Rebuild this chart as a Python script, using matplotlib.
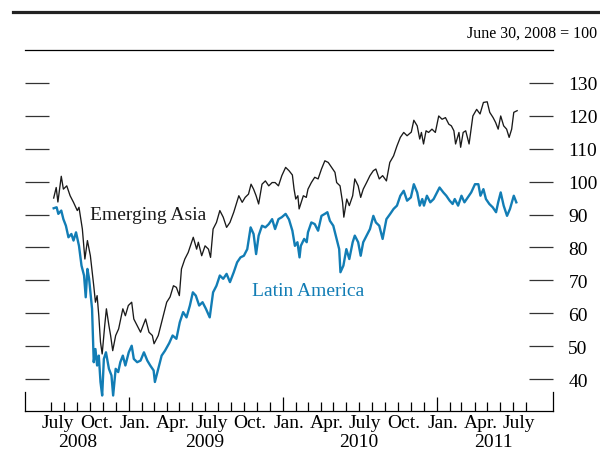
import matplotlib
matplotlib.use("Agg")
import matplotlib.pyplot as plt
from matplotlib.lines import Line2D
from matplotlib.transforms import blended_transform_factory
import pandas as pd

plt.rcParams['font.family'] = ['Liberation Serif', 'DejaVu Serif']

asia_dates = [
    "2008-07-07", "2008-07-13", "2008-07-17", "2008-07-25", "2008-07-30", "2008-08-07", "2008-08-15",
    "2008-08-23", "2008-09-01", "2008-09-05", "2008-09-13", "2008-09-19", "2008-09-25", "2008-10-02",
    "2008-10-10", "2008-10-14", "2008-10-18", "2008-10-22", "2008-10-26", "2008-10-30", "2008-11-05",
    "2008-11-09", "2008-11-15", "2008-11-19", "2008-11-24", "2008-12-01", "2008-12-08", "2008-12-18",
    "2008-12-24", "2008-12-31", "2009-01-08", "2009-01-13", "2009-01-21", "2009-01-29", "2009-02-10",
    "2009-02-18", "2009-02-26", "2009-03-02", "2009-03-12", "2009-03-24", "2009-04-01", "2009-04-09",
    "2009-04-17", "2009-04-24", "2009-05-01", "2009-05-06", "2009-05-14", "2009-05-22", "2009-05-30",
    "2009-06-03", "2009-06-11", "2009-06-15", "2009-06-23", "2009-07-01", "2009-07-09", "2009-07-14",
    "2009-07-20", "2009-07-28", "2009-08-05", "2009-08-13", "2009-08-21", "2009-08-29", "2009-09-07",
    "2009-09-13", "2009-09-19", "2009-09-27", "2009-10-04", "2009-10-12", "2009-10-18", "2009-10-24",
    "2009-10-30", "2009-11-05", "2009-11-13", "2009-11-21", "2009-11-29", "2009-12-07", "2009-12-14",
    "2009-12-22", "2009-12-30", "2010-01-08", "2010-01-16", "2010-01-24", "2010-01-28", "2010-02-01",
    "2010-02-06", "2010-02-09", "2010-02-19", "2010-02-26", "2010-03-02", "2010-03-10", "2010-03-18",
    "2010-03-26", "2010-04-03", "2010-04-11", "2010-04-19", "2010-04-27", "2010-05-05", "2010-05-09",
    "2010-05-17", "2010-05-23", "2010-05-26", "2010-06-02", "2010-06-08", "2010-06-16", "2010-06-21",
    "2010-06-29", "2010-07-05", "2010-07-11", "2010-07-19", "2010-07-27", "2010-08-04", "2010-08-10",
    "2010-08-18", "2010-08-26", "2010-09-04", "2010-09-12", "2010-09-21", "2010-09-29", "2010-10-07",
    "2010-10-15", "2010-10-23", "2010-11-02", "2010-11-08", "2010-11-16", "2010-11-22", "2010-11-26",
    "2010-12-01", "2010-12-07", "2010-12-13", "2010-12-21", "2010-12-29", "2011-01-06", "2011-01-14",
    "2011-01-22", "2011-01-30", "2011-02-05", "2011-02-11", "2011-02-15", "2011-02-23", "2011-02-27",
    "2011-03-05", "2011-03-11", "2011-03-19", "2011-03-28", "2011-04-06", "2011-04-14", "2011-04-22",
    "2011-05-01", "2011-05-07", "2011-05-15", "2011-05-21", "2011-05-27", "2011-06-02", "2011-06-09",
    "2011-06-16", "2011-06-22", "2011-06-28", "2011-07-03", "2011-07-11",
]
asia_values = [
    95.0, 98.2, 93.8, 101.6, 97.7, 98.7, 95.7,
    93.7, 91.2, 92.2, 85.6, 76.5, 82.1, 77.5,
    68.4, 63.4, 65.4, 59.3, 51.3, 47.7, 56.3,
    61.4, 56.3, 53.3, 48.7, 53.3, 55.3, 61.4,
    59.3, 62.4, 63.4, 58.3, 56.3, 54.3, 58.3,
    54.3, 53.3, 50.8, 53.3, 59.3, 63.4, 65.0,
    68.4, 67.9, 65.4, 73.5, 76.5, 78.5, 81.6,
    83.1, 79.5, 81.6, 77.5, 80.5, 79.5, 77.0,
    85.6, 87.6, 91.2, 89.2, 86.1, 87.6, 90.7,
    93.2, 95.7, 93.7, 95.2, 96.2, 99.2, 97.7,
    95.7, 93.2, 99.2, 100.2, 98.7, 99.7, 99.7,
    98.7, 101.8, 104.3, 103.3, 102.0, 97.7, 94.7,
    95.7, 91.7, 95.7, 95.2, 97.7, 99.7, 101.3,
    100.8, 103.8, 106.3, 105.8, 104.3, 102.8, 99.7,
    98.7, 93.7, 89.2, 94.7, 92.7, 95.7, 100.8,
    98.7, 95.2, 97.7, 99.7, 101.8, 103.3, 103.8,
    100.8, 101.8, 100.2, 105.8, 107.8, 110.8, 113.4,
    114.9, 113.9, 115.0, 118.6, 116.9, 112.9, 114.9,
    111.4, 115.4, 114.9, 115.9, 114.9, 119.9, 118.9,
    119.4, 117.4, 116.9, 115.4, 111.4, 114.9, 110.4,
    114.9, 115.4, 111.4, 119.9, 121.9, 120.5, 124.0,
    124.2, 121.0, 119.4, 117.9, 115.9, 119.9, 116.9,
    115.9, 113.4, 115.9, 121.0, 121.5,
]

latam_dates = [
    "2008-07-07", "2008-07-14", "2008-07-18", "2008-07-25", "2008-07-30", "2008-08-05", "2008-08-11",
    "2008-08-18", "2008-08-23", "2008-08-29", "2008-09-05", "2008-09-11", "2008-09-17", "2008-09-21",
    "2008-09-25", "2008-09-29", "2008-10-06", "2008-10-10", "2008-10-14", "2008-10-18", "2008-10-22",
    "2008-10-26", "2008-10-30", "2008-11-03", "2008-11-08", "2008-11-15", "2008-11-21", "2008-11-25",
    "2008-12-01", "2008-12-07", "2008-12-12", "2008-12-18", "2008-12-24", "2009-01-01", "2009-01-08",
    "2009-01-13", "2009-01-21", "2009-01-29", "2009-02-06", "2009-02-14", "2009-02-21", "2009-03-01",
    "2009-03-04", "2009-03-12", "2009-03-20", "2009-03-28", "2009-04-07", "2009-04-15", "2009-04-24",
    "2009-05-02", "2009-05-10", "2009-05-18", "2009-05-26", "2009-06-02", "2009-06-09", "2009-06-17",
    "2009-06-25", "2009-07-03", "2009-07-12", "2009-07-20", "2009-07-28", "2009-08-05", "2009-08-13",
    "2009-08-21", "2009-08-29", "2009-09-07", "2009-09-15", "2009-09-23", "2009-10-01", "2009-10-09",
    "2009-10-17", "2009-10-24", "2009-10-30", "2009-11-05", "2009-11-13", "2009-11-21", "2009-11-29",
    "2009-12-07", "2009-12-14", "2009-12-22", "2009-12-30", "2010-01-08", "2010-01-16", "2010-01-24",
    "2010-01-30", "2010-02-05", "2010-02-10", "2010-02-13", "2010-02-21", "2010-02-27", "2010-03-02",
    "2010-03-10", "2010-03-18", "2010-03-26", "2010-04-03", "2010-04-11", "2010-04-17", "2010-04-23",
    "2010-05-01", "2010-05-09", "2010-05-15", "2010-05-18", "2010-05-25", "2010-06-01", "2010-06-08",
    "2010-06-16", "2010-06-21", "2010-06-29", "2010-07-05", "2010-07-11", "2010-07-19", "2010-07-27",
    "2010-08-04", "2010-08-10", "2010-08-18", "2010-08-26", "2010-09-04", "2010-09-13", "2010-09-21",
    "2010-09-29", "2010-10-07", "2010-10-15", "2010-10-23", "2010-11-01", "2010-11-08", "2010-11-16",
    "2010-11-22", "2010-11-28", "2010-12-02", "2010-12-09", "2010-12-17", "2010-12-25", "2011-01-02",
    "2011-01-08", "2011-01-17", "2011-01-24", "2011-02-01", "2011-02-08", "2011-02-13", "2011-02-21",
    "2011-03-01", "2011-03-08", "2011-03-16", "2011-03-24", "2011-04-02", "2011-04-10", "2011-04-15",
    "2011-04-22", "2011-04-28", "2011-05-06", "2011-05-14", "2011-05-22", "2011-05-27", "2011-06-02",
    "2011-06-09", "2011-06-17", "2011-06-24", "2011-07-03", "2011-07-09",
]
latam_values = [
    91.9, 92.2, 90.2, 91.2, 88.6, 86.6, 83.1,
    84.1, 82.1, 84.6, 80.5, 74.5, 71.5, 64.9,
    73.5, 70.5, 61.4, 45.2, 49.2, 44.2, 47.2,
    39.2, 35.1, 46.2, 48.2, 43.2, 41.2, 35.1,
    43.2, 42.2, 45.2, 47.2, 44.2, 48.2, 50.2,
    46.2, 45.2, 45.7, 48.2, 45.7, 44.2, 42.7,
    39.2, 43.2, 47.2, 48.7, 51.0, 53.3, 52.3,
    57.3, 60.4, 58.8, 62.4, 66.4, 65.4, 62.4,
    63.4, 61.4, 58.8, 66.4, 68.4, 71.5, 70.5,
    72.0, 69.5, 72.5, 75.5, 77.0, 77.5, 79.5,
    86.1, 84.1, 78.0, 83.6, 86.6, 86.1, 87.1,
    88.6, 85.6, 88.6, 89.2, 90.2, 88.5, 85.1,
    80.5, 81.6, 77.0, 80.5, 82.6, 81.6, 84.6,
    87.6, 87.1, 85.1, 89.6, 90.2, 90.7, 88.1,
    86.6, 82.6, 79.5, 72.5, 74.5, 79.5, 76.5,
    81.6, 83.6, 81.6, 77.5, 81.6, 83.6, 85.6,
    89.6, 87.6, 86.6, 82.6, 88.6, 90.2, 91.7,
    92.7, 95.7, 97.2, 94.2, 95.2, 99.2, 96.7,
    92.7, 94.7, 92.7, 95.7, 93.7, 94.7, 96.7,
    98.2, 96.7, 95.7, 94.2, 93.2, 94.7, 92.7,
    95.7, 93.7, 95.2, 96.7, 99.2, 99.2, 95.7,
    97.7, 94.7, 93.2, 92.2, 90.7, 93.7, 96.7,
    92.7, 89.6, 91.7, 95.7, 93.7,
]

month_labels = ["July", "Oct.", "Jan.", "Apr.", "July", "Oct.", "Jan.", "Apr.", "July", "Oct.", "Jan.", "Apr.", "July"]
month_label_dates = ["2008-07-16", "2008-10-16", "2009-01-16", "2009-04-16", "2009-07-16", "2009-10-16",
                     "2010-01-16", "2010-04-16", "2010-07-16", "2010-10-16", "2011-01-16", "2011-04-16", "2011-07-16"]
year_labels = ["2008", "2009", "2010", "2011"]
year_label_dates = ["2008-09-01", "2009-07-01", "2010-07-01", "2011-05-15"]
y_ticks = [40, 50, 60, 70, 80, 90, 100, 110, 120, 130]

W, H = 600, 452
FS = 14
fig = plt.figure(figsize=(6.0, 4.52), dpi=100)
ax = fig.add_axes([25 / W, 1 - 412 / H, 528 / W, (412 - 50.7) / H])

ax.plot(pd.to_datetime(asia_dates), asia_values, color="#1a1a1a", lw=0.95)
ax.plot(pd.to_datetime(latam_dates), latam_values, color="#127db5", lw=1.7)

ylo, yhi = 30.4, 140
ax.set_ylim(ylo, yhi)
ax.set_xlim(pd.Timestamp("2008-04-30"), pd.Timestamp("2011-10-04"))

# y ticks: inward on both sides, labels on right
ax.set_yticks(y_ticks)
ax.yaxis.set_ticks_position("both")
ax.tick_params(axis="y", direction="in", length=17.3, width=0.9, color="#333333",
               labelleft=False, labelright=True, pad=11.0, labelsize=FS)
for lab in ax.get_yticklabels():
    lab.set_horizontalalignment("left")

# x ticks: month starts inward; January longer
months = pd.date_range("2008-07-01", "2011-08-01", freq="MS")
jans = [m for m in months if m.month == 1]
others = [m for m in months if m.month != 1]
ax.set_xticks(jans)
ax.set_xticks(others, minor=True)
ax.tick_params(axis="x", which="major", direction="in", length=10, width=0.9, labelbottom=False)
ax.tick_params(axis="x", which="minor", direction="in", length=6.5, width=0.9, labelbottom=False)

# spines
for s in ["left", "right"]:
    ax.spines[s].set_bounds(ylo, 36.2)
    ax.spines[s].set_linewidth(0.9)
ax.spines["bottom"].set_linewidth(0.9)
ax.spines["top"].set_linewidth(0.9)

trans = blended_transform_factory(ax.transData, fig.transFigure)
for lab, d in zip(month_labels, month_label_dates):
    ax.text(pd.Timestamp(d), 1 - 423.5 / H, lab, transform=trans, ha="center", va="center", fontsize=FS)
for lab, d in zip(year_labels, year_label_dates):
    ax.text(pd.Timestamp(d), 1 - 443 / H, lab, transform=trans, ha="center", va="center", fontsize=FS)

ax.text(pd.Timestamp("2008-10-01"), 90.0, "Emerging Asia", ha="left", va="center", fontsize=FS, color="#1a1a1a")
ax.text(pd.Timestamp("2009-10-21"), 67.0, "Latin America", ha="left", va="center", fontsize=FS, color="#127db5")

fig.add_artist(Line2D([13 / W, 1.0], [1 - 13.3 / H, 1 - 13.3 / H], color="#222222", lw=2.3))
fig.text(597 / W, 1 - 34 / H, "June 30, 2008 = 100", ha="right", va="center", fontsize=11.5)

fig.savefig("out.png", dpi=100)
